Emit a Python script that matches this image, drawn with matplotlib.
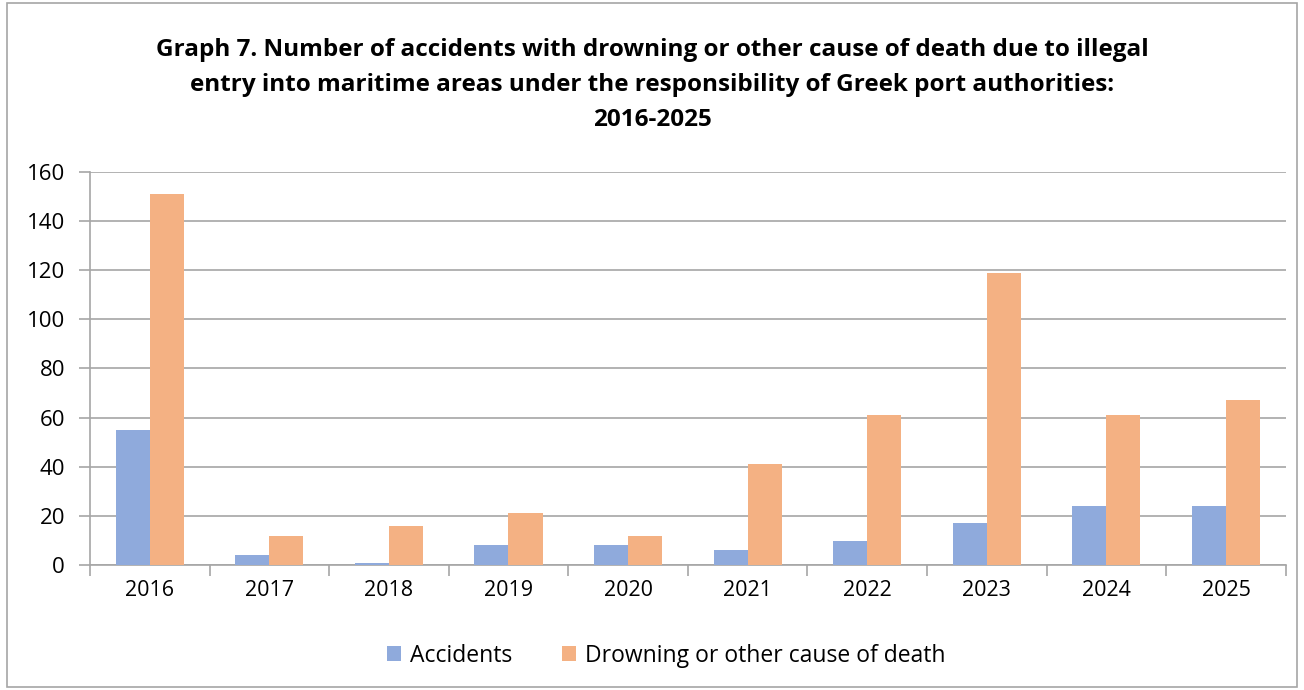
import matplotlib.pyplot as plt
import numpy as np

years = ['2016', '2017', '2018', '2019', '2020', '2021', '2022', '2023', '2024', '2025']
accidents = [55, 4, 1, 8, 8, 6, 10, 17, 24, 24]
deaths = [151, 12, 16, 21, 12, 41, 61, 119, 61, 67]

plt.rcParams['font.family'] = ['Open Sans', 'DejaVu Sans']

fig = plt.figure(figsize=(13.04, 6.9), dpi=100)
ax = fig.add_axes([0.069, 0.181, 0.917, 0.570])

x = np.arange(len(years))
w = 0.285
ax.bar(x - w / 2, accidents, w, color='#8faadc', label='Accidents', zorder=3)
ax.bar(x + w / 2, deaths, w, color='#f4b183', label='Drowning or other cause of death', zorder=3)

ax.set_xlim(-0.5, len(years) - 0.5)
ax.set_ylim(0, 160)
ax.set_yticks(range(0, 161, 20))
ax.set_xticks(x)
ax.set_xticklabels(years)
ax.set_xticks(np.arange(-0.5, len(years), 1), minor=True)
ax.tick_params(axis='x', which='major', length=0, labelsize=15.5, pad=11)
ax.tick_params(axis='x', which='minor', length=8, color='#a6a6a6', width=1.2)
ax.tick_params(axis='y', length=8, color='#a6a6a6', width=1.2, labelsize=16, pad=10)
ax.grid(axis='y', color='#a6a6a6', linewidth=1.2, zorder=0)

for s in ['top', 'right']:
    ax.spines[s].set_visible(False)
for s in ['left', 'bottom']:
    ax.spines[s].set_color('#a6a6a6')
    ax.spines[s].set_linewidth(1.2)

fig.text(0.5, 0.877, 'Graph 7. Number of accidents with drowning or other cause of death due to illegal\n'
         'entry into maritime areas under the responsibility of Greek port authorities:\n2016-2025',
         ha='center', va='center', fontsize=17.5, fontweight='bold', linespacing=1.62)

fig.legend(loc='center', bbox_to_anchor=(0.511, 0.05), ncol=2, frameon=False, fontsize=16.5,
           handlelength=0.6, handleheight=0.6, columnspacing=2.2, handletextpad=0.4)

fig.patches.append(plt.Rectangle((0.005, 0.005), 0.99, 0.99, transform=fig.transFigure,
                                 fill=False, edgecolor='#a6a6a6', linewidth=1.2))

fig.savefig('out.png', dpi=100)
